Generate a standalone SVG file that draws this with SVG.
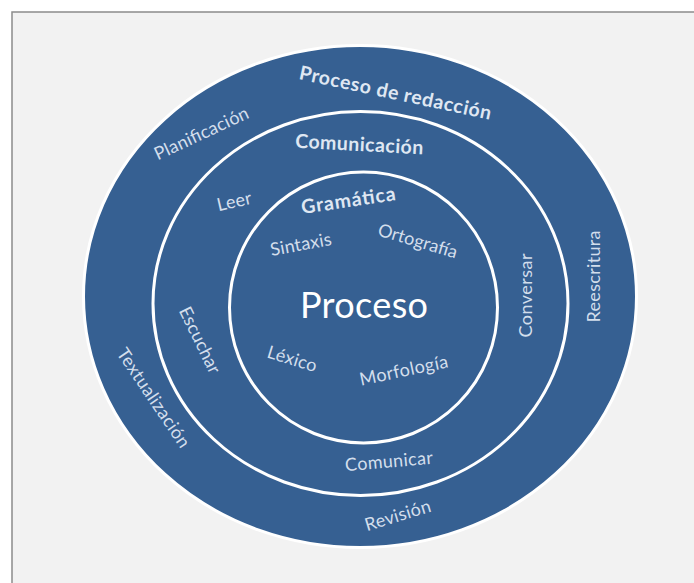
<svg xmlns="http://www.w3.org/2000/svg" width="694" height="583" viewBox="0 0 694 583">
<style>
.lbl{font-family:Lato,"Open Sans","Liberation Sans",sans-serif;font-size:18px;fill:#d3deec;text-anchor:middle}
.bold{font-family:Lato,"Open Sans","Liberation Sans",sans-serif;font-size:19.5px;font-weight:bold;fill:#dfe7f2;text-anchor:middle}
.big{font-family:Lato,"Open Sans","Liberation Sans",sans-serif;font-size:36px;fill:#ffffff;text-anchor:middle}
.ring{fill:#366092;stroke:#ffffff;stroke-width:3}
.line{fill:none;stroke:#ffffff;stroke-width:3}
</style>
<rect x="0" y="0" width="694" height="583" fill="#ffffff"/>
<rect x="12" y="12" width="700" height="600" fill="#f2f2f2" stroke="#8c8c8c" stroke-width="1.5"/>
<g id="outer">
<ellipse class="ring" cx="360" cy="296.5" rx="276.5" ry="251"/>
<text class="bold" transform="translate(394,99.4) rotate(12)" textLength="196">Proceso de redacción</text>
<text class="lbl" transform="translate(204,139) rotate(-25)" textLength="102">Planificación</text>
<text class="lbl" transform="translate(148.4,401.3) rotate(56)" textLength="116">Textualización</text>
<text class="lbl" transform="translate(399.5,521.3) rotate(-17)" textLength="68">Revisión</text>
<text class="lbl" transform="translate(600,276.5) rotate(-90)" textLength="92">Reescritura</text>
</g>
<g id="middle">
<ellipse class="line" cx="360.5" cy="303.5" rx="207.5" ry="192"/>
<text class="bold" transform="translate(359,151) rotate(3)" textLength="128">Comunicación</text>
<text class="lbl" transform="translate(235.6,207.4) rotate(-13)" textLength="35">Leer</text>
<text class="lbl" transform="translate(194.3,342.8) rotate(64)" textLength="72">Escuchar</text>
<text class="lbl" transform="translate(389.4,467.5) rotate(-5)" textLength="88">Comunicar</text>
<text class="lbl" transform="translate(532,295.5) rotate(-90)" textLength="84">Conversar</text>
</g>
<g id="inner">
<ellipse class="line" cx="363.5" cy="307.5" rx="134" ry="135.5"/>
<text class="bold" transform="translate(349.2,207) rotate(-8.5)" textLength="95">Gramática</text>
<text class="lbl" transform="translate(301.9,250.4) rotate(-10.5)" textLength="62">Sintaxis</text>
<text class="lbl" transform="translate(416,246.8) rotate(16.5)" textLength="82">Ortografía</text>
<text class="lbl" transform="translate(290.5,364.8) rotate(17)" textLength="51">Léxico</text>
<text class="lbl" transform="translate(405,376.4) rotate(-12)" textLength="90">Morfología</text>
<text class="big" x="364" y="318" textLength="128">Proceso</text>
</g>
<g id="connectors"></g>
</svg>
